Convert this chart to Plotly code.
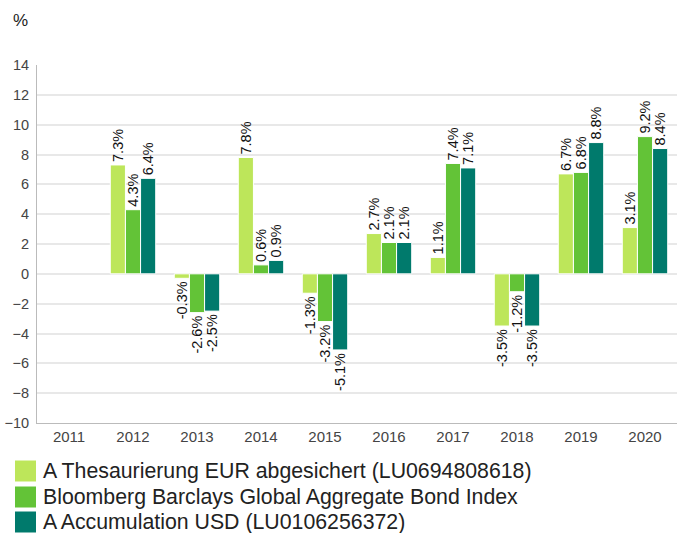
import plotly.graph_objects as go

years = ["2011", "2012", "2013", "2014", "2015", "2016", "2017", "2018", "2019", "2020"]
thes_eur = [None, 7.3, -0.3, 7.8, -1.3, 2.7, 1.1, -3.5, 6.7, 3.1]
bbg_index = [None, 4.3, -2.6, 0.6, -3.2, 2.1, 7.4, -1.2, 6.8, 9.2]
acc_usd = [None, 6.4, -2.5, 0.9, -5.1, 2.1, 7.1, -3.5, 8.8, 8.4]

names = ["A Thesaurierung EUR abgesichert (LU0694808618)",
         "Bloomberg Barclays Global Aggregate Bond Index",
         "A Accumulation USD (LU0106256372)"]
colors = ["#bde65a", "#63c337", "#007a6c"]
series = [thes_eur, bbg_index, acc_usd]

W, H = 677, 533
L, R, T, B = 37, 0, 65, 110
PW, PH = W - L - R, H - T - B

def px(x):
    return (x - L) / PW

def py(y):
    return (H - B - y) / PH

fig = go.Figure()
for vals, name, col in zip(series, names, colors):
    fig.add_trace(go.Bar(
        x=years, y=vals, name=name, showlegend=False,
        marker=dict(color=col, line=dict(color="white", width=1)),
        text=[("" if v is None else f"{v}%") for v in vals],
        textposition="outside", textangle=-90, constraintext="none",
        textfont=dict(family="Liberation Sans, Arial", size=14.5, color="#111"),
        cliponaxis=False,
    ))

shapes = []
annotations = []
centers = [471, 497, 522]
for name, col, cy in zip(names, colors, centers):
    shapes.append(dict(type="rect", xref="paper", yref="paper",
                       x0=px(15), x1=px(36), y0=py(cy - 10.5), y1=py(cy + 10.5),
                       fillcolor=col, line=dict(width=0)))
    annotations.append(dict(text=name, xref="paper", yref="paper", x=px(41), y=py(cy),
                            xanchor="left", yanchor="middle", showarrow=False,
                            font=dict(size=21.3, color="#222", family="Liberation Sans, Arial")))
annotations.append(dict(text="%", xref="paper", yref="paper", x=px(11), y=py(20),
                        xanchor="left", yanchor="middle", showarrow=False,
                        font=dict(size=17, color="#222", family="Liberation Sans, Arial")))

fig.update_layout(
    width=W, height=H,
    margin=dict(l=L, r=R, t=T, b=B),
    paper_bgcolor="white", plot_bgcolor="white",
    barmode="group", bargap=0.29, bargroupgap=0.0,
    showlegend=False,
    font=dict(family="Liberation Sans, Arial", color="#444"),
    xaxis=dict(showgrid=False, showline=True, linecolor="#bbb", linewidth=1, automargin=False,
               tickfont=dict(size=15, color="#444"), ticks=""),
    yaxis=dict(range=[-10, 14], dtick=2, tick0=0, showgrid=True, gridcolor="#e8e8e8",
               gridwidth=1.5, zeroline=False, showline=True, linecolor="#bbb", linewidth=1,
               automargin=False, tickfont=dict(size=14.5, color="#444"), ticks="",
               ticklabelstandoff=4),
    shapes=shapes,
    annotations=annotations,
)
fig.write_html("out.html", config={"displayModeBar": False},
               post_script="document.body.style.margin='0';document.body.style.overflow='hidden';")
